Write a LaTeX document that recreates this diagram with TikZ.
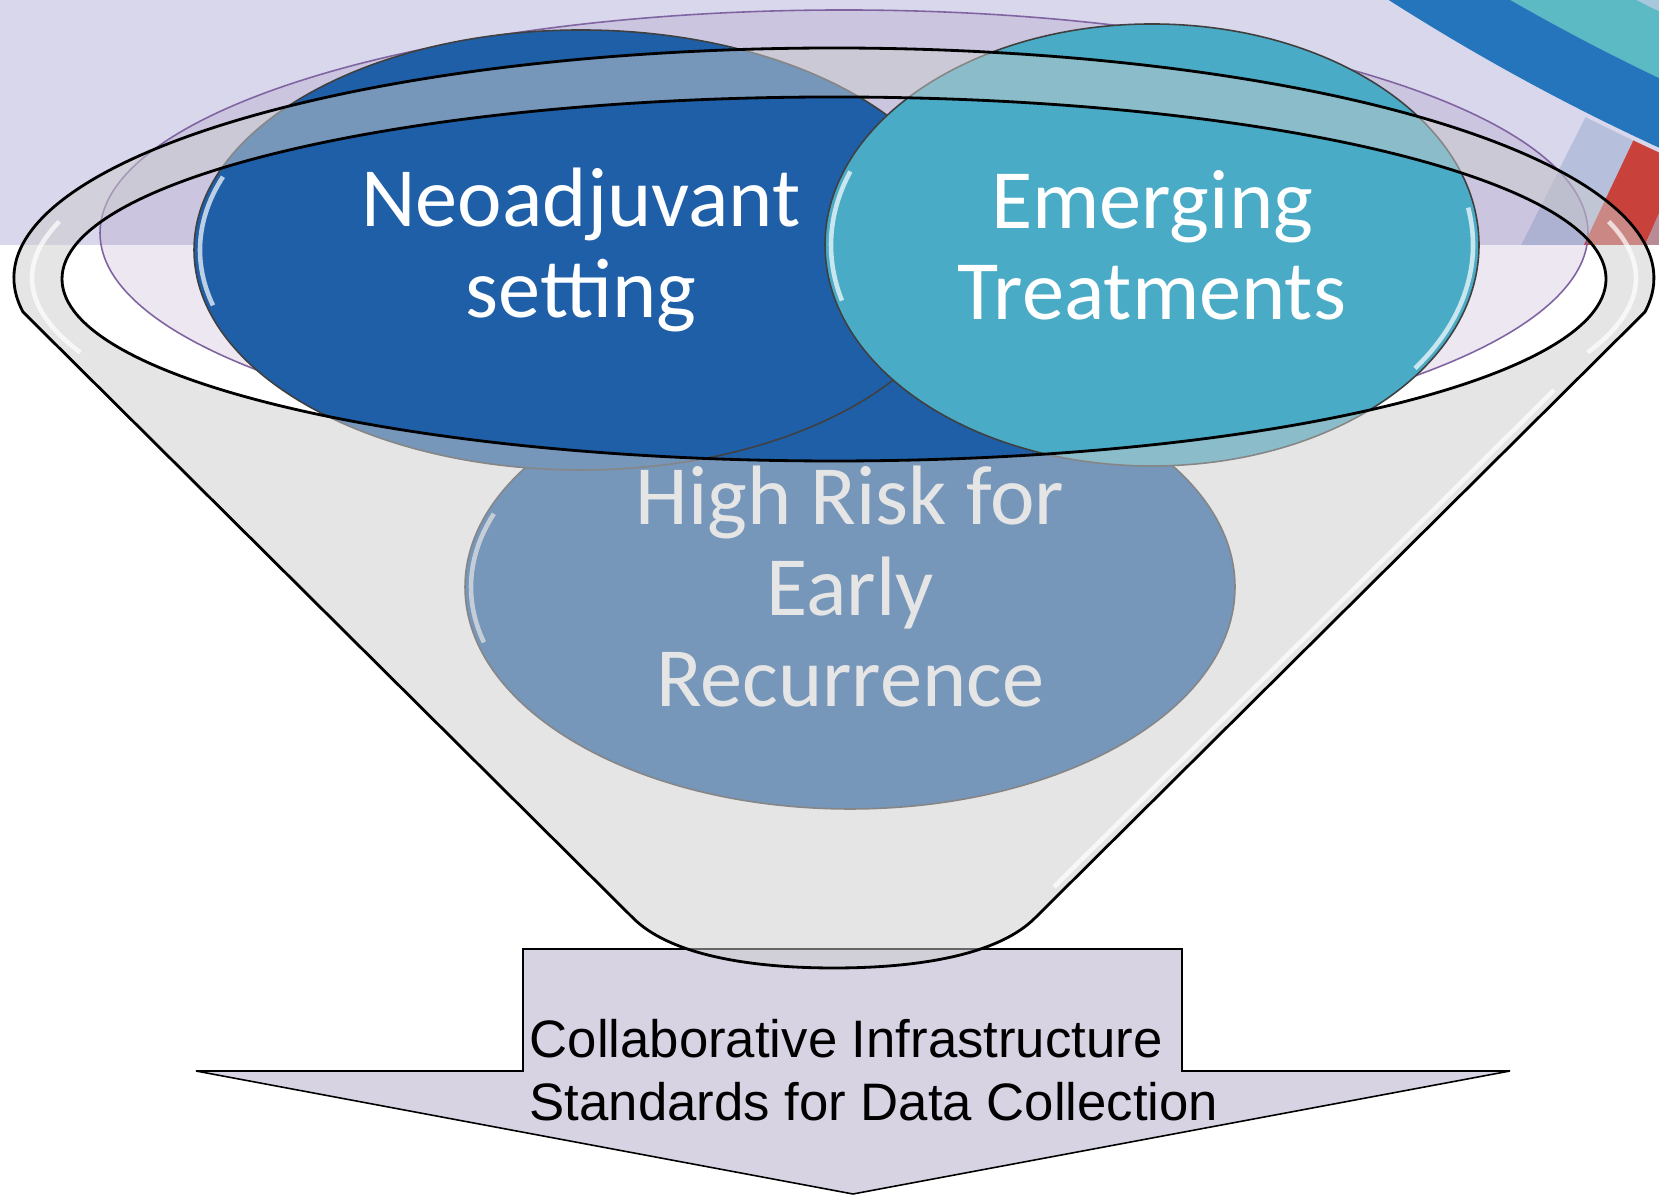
\documentclass[tikz,border=0pt]{standalone}
\usepackage{fontspec}
\newfontfamily\bubblefont{Carlito}
\newfontfamily\arrowfont{Liberation Sans}
\usetikzlibrary{shapes.geometric}
\definecolor{bandlav}{HTML}{D9D7EB}
\definecolor{hdrblue}{HTML}{2475BB}
\definecolor{hdrteal}{HTML}{5BBAC3}
\definecolor{hdrpale}{HTML}{A9C7DC}
\definecolor{seggray}{HTML}{B6C0DC}
\definecolor{segred}{HTML}{C8413A}
\definecolor{segpale}{HTML}{B98C95}
\definecolor{neoblue}{HTML}{1F5FA8}
\definecolor{emteal}{HTML}{4AABC6}
\definecolor{ringpurple}{HTML}{8064A2}
\definecolor{funnelgray}{HTML}{CDCDCD}
\definecolor{arrowlav}{HTML}{D7D3E3}
\tikzset{%
  bubble/.style = {ellipse, draw=black!75, line width=0.45pt, inner sep=0pt,
                   text=white, align=center,
                   font=\bubblefont\fontsize{24}{25.9}\selectfont},
  shine/.style  = {white, opacity=0.7, line width=1.3pt},
  ring/.style   = {draw=ringpurple, line width=0.45pt, fill=ringpurple, fill opacity=0.15},
  funnel/.style = {fill=funnelgray, fill opacity=0.5, draw=black, line width=0.8pt,
                   even odd rule},
  arrowbox/.style = {fill=arrowlav, draw=black, line width=0.45pt},
  arrowtext/.style = {inner sep=0pt, align=left, text=black,
                      font=\arrowfont\fontsize{15}{17.9}\selectfont},
}

\begin{document}
\begin{tikzpicture}[x=0.1mm, y=0.1mm]

  \useasboundingbox (0,0) rectangle (1659,1195);
  \fill[white] (0,0) rectangle (1659,1195);
  \fill[bandlav] (0,950) rectangle (1659,1195);

  \coordinate (hub) at (2600,3095);
  \begin{scope}
    \clip (0,950) rectangle (1659,1195);
    \fill[hdrpale, even odd rule] (hub) circle[radius=2130] (hub) circle[radius=2080];
    \fill[hdrteal, even odd rule] (hub) circle[radius=2190] (hub) circle[radius=2130];
    \fill[hdrblue, even odd rule] (hub) circle[radius=2253] (hub) circle[radius=2190];
    \foreach \a/\b/\c in {243.3/244.65/seggray, 244.65/246/segred, 246/248/segpale}
      \fill[\c] (hub) ++(\a:2258) arc[start angle=\a, end angle=\b, radius=2258]
        -- ++(\b:450) arc[start angle=\b, end angle=\a, radius=2708] -- cycle;
  \end{scope}

  \draw[ring] (844,962) ellipse[x radius=744, y radius=223];

  \path[arrowbox] (523,246) -- (1182,246) -- (1182,124) -- (1510,124) -- (853,1)
    -- (196,124) -- (523,124) -- cycle;
  \node (collab) [arrowtext, anchor=west] at (529,125)
    {Collaborative Infrastructure\\Standards for Data Collection};

  \node (risk)     [bubble, fill=neoblue, minimum width=77mm, minimum height=44.4mm]
    at (850,608) {High Risk for\\Early\\Recurrence};
  \node (neo)      [bubble, fill=neoblue, minimum width=77.4mm, minimum height=44mm]
    at (581,945) {Neoadjuvant\\setting};
  \node (emerging) [bubble, fill=emteal, minimum width=65.4mm, minimum height=44.2mm]
    at (1152,950) {Emerging\\Treatments};

  \draw[shine] (risk.center) ++(160:379 and 214) arc[start angle=160, end angle=195, x radius=379, y radius=214];
  \draw[shine] (neo.center) ++(160:381 and 214) arc[start angle=160, end angle=195, x radius=381, y radius=214];
  \draw[shine] (emerging.center) ++(160:321 and 215) arc[start angle=160, end angle=195, x radius=321, y radius=215];
  \draw[shine] (emerging.center) ++(-35:321 and 215) arc[start angle=-35, end angle=10, x radius=321, y radius=215];

  \path[funnel] (23,883) arc[start angle=188.5, end angle=-8.5, x radius=820, y radius=230]
    -- (1035,277) .. controls (1000,242) and (925,227) .. (834,227)
    .. controls (743,227) and (668,242) .. (633,277) -- cycle
    (834,916) ellipse[x radius=772, y radius=182];

  \draw[shine] (834,917) ++(165:802 and 218) arc[start angle=165, end angle=200, x radius=802, y radius=218];
  \draw[shine] (834,917) ++(-20:802 and 218) arc[start angle=-20, end angle=15, x radius=802, y radius=218];
  \draw[shine] (1554,805) -- (1054,308);

\end{tikzpicture}
\end{document}
